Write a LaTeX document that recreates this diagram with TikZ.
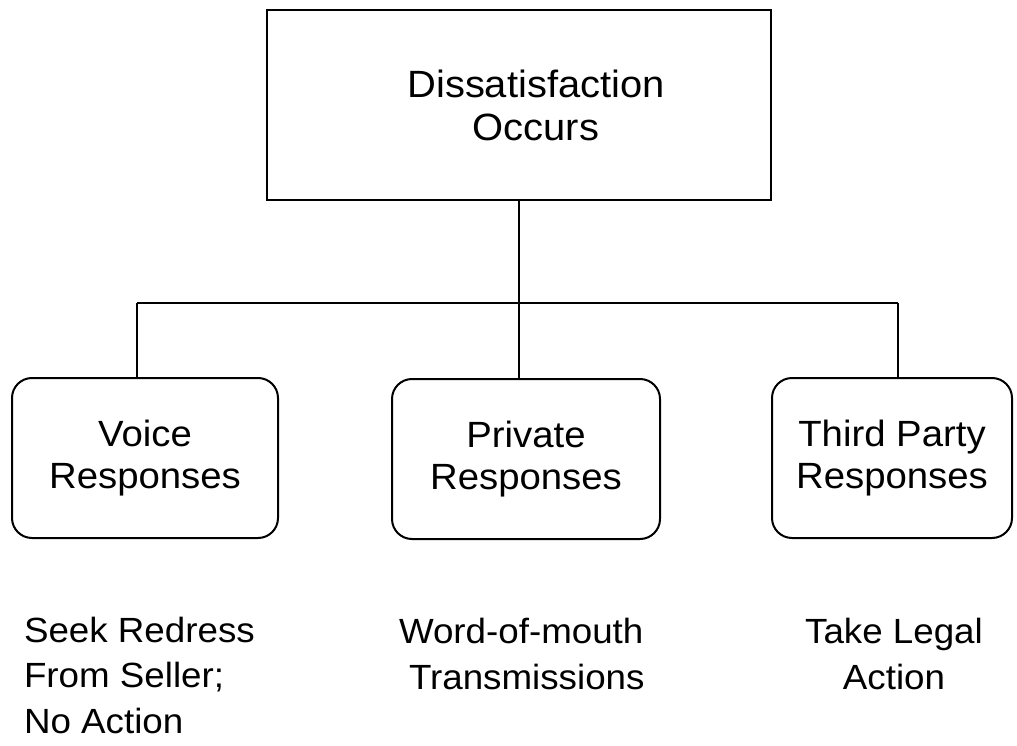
\documentclass[tikz,border=0pt]{standalone}
\usepackage{fontspec}
\setmainfont[FakeStretch=1.05]{Liberation Sans}
\begin{document}
\begin{tikzpicture}[x=1pt,y=-1pt,
  line width=2pt,
  topbox/.style={draw, inner sep=0pt, minimum width=504pt, minimum height=190pt, align=center,
    font=\fontsize{38}{43}\selectfont},
  respbox/.style={draw, rounded corners=20pt, inner sep=0pt, minimum height=160pt, align=center,
    font=\fontsize{36.5}{42}\selectfont},
  outtext/.style={inner sep=0pt, font=\fontsize{35}{45.5}\selectfont}
]
\useasboundingbox (0,0) rectangle (1017,746);
\node[topbox] (top) at (519,105) {\hspace*{34pt}Dissatisfaction\\\hspace*{34pt}Occurs};
\node[respbox, minimum width=266pt] (voice) at (145,458) {Voice\\Responses};
\node[respbox, minimum width=268pt] (private) at (526,459) {Private\\Responses};
\node[respbox, minimum width=240pt] (third) at (892,458) {Third Party\\Responses};
\coordinate (jc) at (519,303);
\coordinate (jl) at (137,303);
\coordinate (jr) at (898,303);
\draw (top.south -| jc) -- (jc);
\draw (jl) -- (jr);
\draw (jl) -- (jl |- voice.north);
\draw (jc) -- (jc |- private.north);
\draw (jr) -- (jr |- third.north);
\node[outtext, anchor=base west, align=left] (seek) at (23,733) {Seek Redress\\From Seller;\\No Action};
\node[outtext, anchor=base west, align=left] (word) at (398,689) {Word-of-mouth\\\hspace*{10pt}Transmissions};
\node[outtext, anchor=base, align=center] (legal) at (894,689) {Take Legal\\Action};
\end{tikzpicture}
\end{document}
